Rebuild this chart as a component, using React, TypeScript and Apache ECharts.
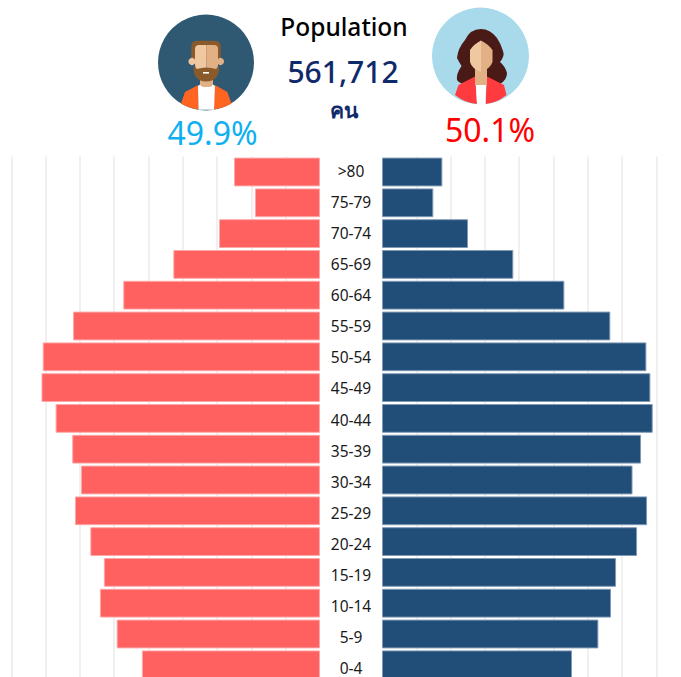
import React, { useEffect, useRef } from "react";
import * as echarts from "echarts";

const ageGroups = [">80","75-79","70-74","65-69","60-64","55-59","50-54","45-49","40-44","35-39","30-34","25-29","20-24","15-19","10-14","5-9","0-4"];
const redValues = [6270,4740,7360,10690,14340,18000,20210,20300,19270,18060,17420,17860,16740,15750,16040,14820,12980];
const blueValues = [4400,3740,6270,9570,13290,16640,19270,19560,19730,18880,18260,19320,18590,17060,16690,15770,13850];
const titleText = "Population";
const totalText = "561,712";
const unitText = "คน";
const malePct = "49.9%";
const femalePct = "50.1%";

const FONT = "'Noto Sans', sans-serif";

const shapes: Record<string, string> = {
  manHair: "M191.3 62 L191.3 47 Q191.3 40.7 197 40.7 L215 40.7 Q220.7 40.7 220.7 47 L220.7 62 Z",
  manBeard: "M193.5 66 L197 69 Q206 66 216 69 L219.2 66 Q219.5 81.5 206 81.5 Q193 81.5 193.5 66 Z",
  manJacketL: "M181 103.5 L185 92 L198.3 85 L198.5 109.5 Q188 108 181 103.5 Z",
  manJacketR: "M231.5 103.5 L227.3 92 L215 85 L213.5 109.5 Q224 108 231.5 103.5 Z",
  manShirt: "M198 86 L202 83 L211 83 L215 86 L214 109.8 L198.5 109.8 Z",
  womanHair: "M481 29 Q470 29 465 40 Q458 48 457 58 Q459 62 461.5 66 Q456 74 457 80 Q460 84 465 84 L500 84 Q507 80 507 73 Q505 66 500 62 Q505 56 503 51 Q501 44 497 38 Q490 29 481 29 Z",
  womanFaceL: "M481 40.5 Q474 44 470 50 L470 62 Q472 69 481 72 Z",
  womanFaceR: "M481 40.5 Q488 44 492.5 50 L492.5 62 Q490 69 481 72 Z",
  womanJacketL: "M455 95 L458.5 85 L475 76.5 L477 104 Q465 103 455 95 Z",
  womanJacketR: "M506.5 95 L504 85 L487 76.5 L485.5 104 Q497 103 506.5 95 Z",
  womanShirt: "M476 85 L486 85 L485.5 104.8 L477 104.8 Z",
};
Object.entries(shapes).forEach(([name, d]) => {
  echarts.graphic.registerShape(name, echarts.graphic.extendPath(d, {}) as any);
});

const shape = (type: string, fill: string) => ({ type, x: 0, y: 0, style: { fill } });
const label = (text: string, x: number, y: number, size: number, fill: string, fontWeight: any = "normal") => ({
  type: "text", x, y,
  style: { text, fontSize: size, fill, fontWeight, fontFamily: FONT, textAlign: "center", textVerticalAlign: "middle" },
});

export default function App() {
  const ref = useRef<HTMLDivElement>(null);
  useEffect(() => {
    document.body.style.margin = "0";
    const chart = echarts.init(ref.current!, undefined, { renderer: "svg" });
    const unitPerPx = 2500 / 34.3;
    const hidden = { axisLabel: { show: false }, axisLine: { show: false }, axisTick: { show: false } };
    const splitLine = { show: true, showMinLine: false, showMaxLine: false, lineStyle: { color: "#f0f0f0", width: 2 } };
    chart.setOption({
      animation: false,
      backgroundColor: "#ffffff",
      grid: [
        { left: 0, width: 320, top: 156.6, height: 523.6, outerBoundsMode: "none" },
        { left: 382, width: 299, top: 156.6, height: 523.6, outerBoundsMode: "none" },
        { left: 382, width: 299, top: 155.5, height: 528, outerBoundsMode: "none" },
      ],
      xAxis: [
        { type: "value", gridIndex: 0, inverse: true, min: 0, max: 320 * unitPerPx, interval: 2500, ...hidden, splitLine },
        { type: "value", gridIndex: 1, min: 0, max: 299 * unitPerPx, interval: 2500, ...hidden, splitLine },
        { type: "value", gridIndex: 2, min: 0, max: 299 * unitPerPx, ...hidden, splitLine: { show: false } },
      ],
      yAxis: [
        { type: "category", gridIndex: 0, inverse: true, data: ageGroups, ...hidden },
        { type: "category", gridIndex: 1, inverse: true, data: ageGroups, ...hidden },
        { type: "category", gridIndex: 2, inverse: true, data: ageGroups, axisLine: { show: false }, axisTick: { show: false },
          axisLabel: { show: true, interval: 0, margin: 31, align: "center", fontSize: 15.5, color: "#1a1a1a", fontFamily: FONT } },
      ],
      series: [
        { type: "bar", xAxisIndex: 0, yAxisIndex: 0, data: redValues, barWidth: 28.8, itemStyle: { color: "#ff5f5f", opacity: 0.99, borderColor: "#ffa8a8", borderWidth: 1 } },
        { type: "bar", xAxisIndex: 1, yAxisIndex: 1, data: blueValues, barWidth: 28.8, itemStyle: { color: "#1d4c77", opacity: 0.99, borderColor: "#7f9ab5", borderWidth: 1 } },
      ],
      graphic: [
        { type: "circle", shape: { cx: 206, cy: 62.5, r: 48 }, style: { fill: "#2f5872" } },
        shape("manJacketL", "#ff6420"),
        shape("manJacketR", "#ff6420"),
        shape("manShirt", "#ffffff"),
        { type: "rect", shape: { x: 200, y: 76, width: 13, height: 11, r: 4 }, style: { fill: "#e2b085" } },
        shape("manHair", "#8a5a2b"),
        { type: "circle", shape: { cx: 192, cy: 61.5, r: 3.6 }, style: { fill: "#f0c8a0" } },
        { type: "circle", shape: { cx: 220.5, cy: 61.5, r: 3.6 }, style: { fill: "#e2b085" } },
        { type: "rect", shape: { x: 195, y: 45, width: 11.5, height: 28, r: [4, 0, 0, 8] }, style: { fill: "#f0c8a0" } },
        { type: "rect", shape: { x: 206.5, y: 45, width: 11.5, height: 28, r: [0, 4, 8, 0] }, style: { fill: "#e2b085" } },
        shape("manBeard", "#8a5a2b"),
        { type: "rect", shape: { x: 203, y: 72, width: 6, height: 1.6 }, style: { fill: "#ffffff" } },

        { type: "circle", shape: { cx: 480.5, cy: 56, r: 48.5 }, style: { fill: "#a8daec" } },
        shape("womanHair", "#4a1a17"),
        shape("womanJacketL", "#ff3b40"),
        shape("womanJacketR", "#ff3b40"),
        shape("womanShirt", "#ffffff"),
        { type: "polygon", shape: { points: [[475, 68], [487, 68], [487, 85], [475, 85]] }, style: { fill: "#e2b085" } },
        shape("womanFaceL", "#f0c8a0"),
        shape("womanFaceR", "#e2b085"),

        label(titleText, 344, 26, 24.5, "#000000", 500),
        label(totalText, 343, 71, 30, "#10296a", 500),
        label(unitText, 344, 110, 21, "#10296a", "bold"),
        label(malePct, 212.5, 132, 32, "#10b0f0"),
        label(femalePct, 490, 129, 32, "#ff0000"),
      ],
    });
    return () => chart.dispose();
  }, []);
  return <div ref={ref} style={{ width: 681, height: 677, overflow: "hidden" }} />;
}
